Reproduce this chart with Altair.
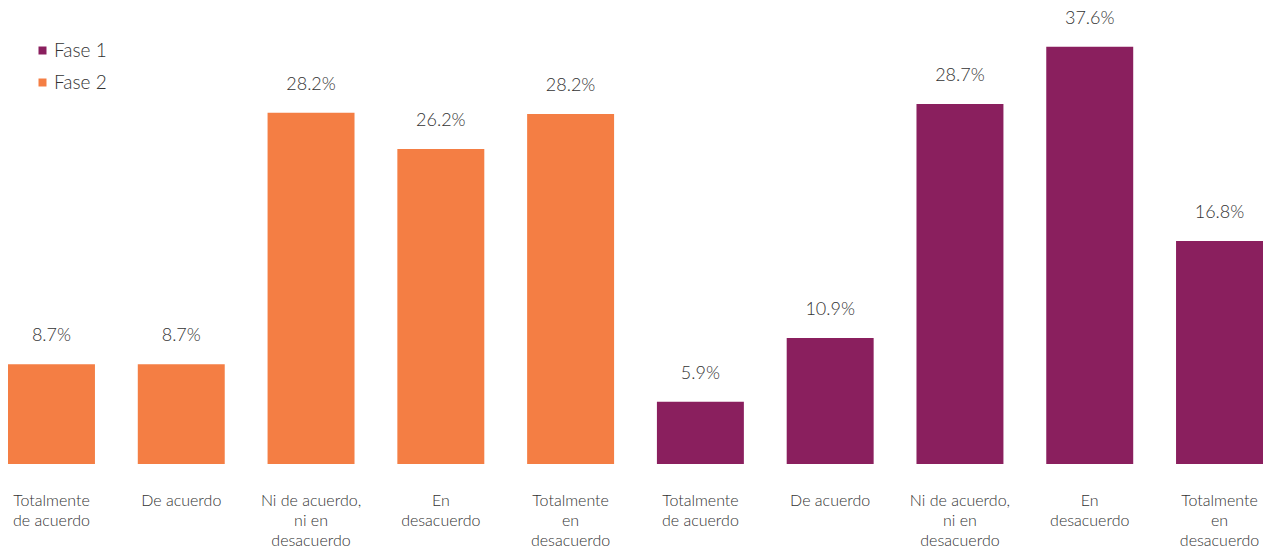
import altair as alt
import pandas as pd

# --- data ---
categories = [
    "Totalmente~de acuerdo", "De acuerdo", "Ni de acuerdo,~ni en~desacuerdo",
    "En~desacuerdo", "Totalmente~en~desacuerdo",
    "Totalmente~de acuerdo", "De acuerdo", "Ni de acuerdo,~ni en~desacuerdo",
    "En~desacuerdo", "Totalmente~en~desacuerdo",
]
phases = ["Fase 2"] * 5 + ["Fase 1"] * 5
label_values = [8.7, 8.7, 28.2, 26.2, 28.2, 5.9, 10.9, 28.7, 37.6, 16.8]
bar_lengths = [9.0, 9.0, 31.65, 28.4, 31.55, 5.6, 11.35, 32.45, 37.6, 20.1]
legend_order = ["Fase 1", "Fase 2"]
colors = ["#8A1F5E", "#F47E44"]

keys = [f"{i}|{c}" for i, c in enumerate(categories)]
df = pd.DataFrame({
    "key": keys,
    "fase": phases,
    "pct": label_values,
    "bar": bar_lengths,
})

FONT = "Lato"
TXT = "#333333"

x = alt.X(
    "key:N", sort=keys, title=None,
    scale=alt.Scale(paddingInner=0.33, paddingOuter=0),
    axis=alt.Axis(
        labelExpr="split(split(datum.value, '|')[1], '~')",
        labelAngle=0, domain=False, ticks=False, labelFont=FONT,
        labelFontSize=16, labelFontWeight=300, labelColor=TXT, labelPadding=28,
        labelLineHeight=20, labelBaseline="top", labelAlign="center",
        labelOverlap=False, labelBound=False, labelLimit=0,
    ),
)
y_scale = alt.Scale(domain=[0, 41.1], nice=False, zero=True)

bars = alt.Chart(df).mark_bar().encode(
    x=x,
    y=alt.Y("bar:Q", scale=y_scale, axis=None),
    color=alt.Color(
        "fase:N",
        scale=alt.Scale(domain=legend_order, range=colors),
        legend=alt.Legend(
            title=None, orient="none", legendX=25, legendY=33,
            symbolType="square", symbolSize=64, labelFont=FONT,
            labelFontSize=19, labelFontWeight=300, labelColor=TXT, rowPadding=12,
            labelOffset=2, padding=0,
        ),
    ),
)

text = alt.Chart(df).transform_calculate(
    lab="format(datum.pct, '.1f') + '%'"
).mark_text(
    dy=-28, baseline="middle", align="center", font=FONT, fontSize=18,
    fontWeight=300, color=TXT
).encode(
    x=alt.X("key:N", sort=keys),
    y=alt.Y("bar:Q", scale=y_scale),
    text="lab:N",
)

chart = (bars + text).properties(
    width=1255, height=456,
    autosize=alt.AutoSizeParams(type="none"),
    padding={"left": 0, "top": 0, "right": 0, "bottom": 86},
).configure_view(stroke=None)

chart.save("out.html", embed_options={"renderer": "svg", "actions": False})
